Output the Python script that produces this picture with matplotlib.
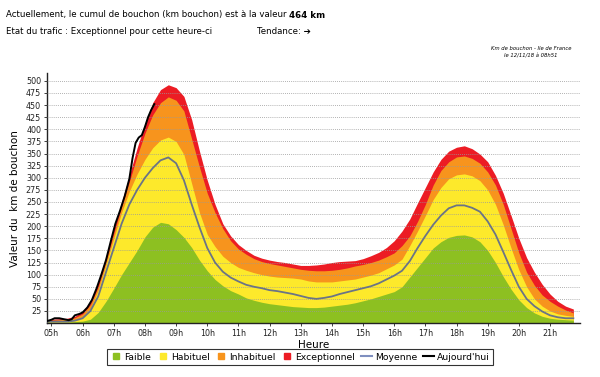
import matplotlib
matplotlib.use('Agg')
import matplotlib.pyplot as plt
from matplotlib.lines import Line2D
import numpy as np

# heures (abscisse) des courbes de reference
hours = [4.85] + list(np.arange(5.0, 21.76, 0.25))

# bornes hautes de chaque zone (km de bouchon)
faible = [2, 2, 2, 2, 3, 4, 8, 22, 45, 72, 100, 125, 150, 178, 198, 208, 205,
          193, 177, 156, 130, 108, 90, 77, 67, 60, 52, 47, 43, 40, 38, 36, 34,
          33, 32, 32, 33, 35, 37, 39, 42, 46, 50, 55, 60, 65, 75, 95, 115, 135,
          155, 168, 177, 181, 182, 178, 168, 150, 125, 96, 70, 48, 32, 21, 14,
          10, 8, 7, 6]
habituel = [4, 4, 4, 5, 7, 13, 30, 68, 120, 175, 228, 272, 308, 338, 362, 378,
            384, 375, 348, 288, 228, 183, 158, 138, 125, 115, 109, 104, 100, 97,
            95, 94, 93, 91, 87, 85, 85, 85, 87, 89, 91, 95, 99, 104, 112, 120,
            132, 160, 190, 222, 255, 280, 298, 306, 308, 304, 294, 275, 245, 203,
            155, 110, 75, 50, 35, 25, 19, 16, 14]
inhabituel = [5, 6, 7, 8, 11, 19, 38, 75, 128, 185, 240, 292, 345, 392, 430,
              455, 467, 460, 438, 380, 322, 268, 228, 195, 170, 153, 142, 133,
              127, 123, 120, 117, 114, 111, 109, 108, 108, 109, 111, 114, 118,
              121, 125, 130, 137, 145, 160, 180, 210, 245, 285, 315, 333, 343,
              345, 340, 330, 312, 285, 245, 195, 145, 105, 78, 58, 45, 35, 27, 21]
exceptionnel = [6, 8, 9, 10, 14, 24, 45, 85, 138, 195, 250, 305, 362, 412, 455,
                482, 492, 486, 468, 420, 355, 295, 245, 205, 180, 162, 150, 140,
                134, 130, 127, 125, 122, 119, 119, 120, 122, 125, 127, 128, 129,
                133, 139, 146, 156, 170, 190, 215, 248, 280, 312, 338, 355, 363,
                366, 360, 349, 333, 305, 268, 222, 175, 135, 105, 80, 60, 45, 35, 29]
moyenne = [3, 3, 3, 3, 5, 10, 25, 55, 105, 155, 205, 245, 275, 300, 320, 336,
           342, 330, 295, 245, 198, 155, 125, 106, 94, 86, 79, 75, 72, 68, 66,
           63, 60, 56, 52, 50, 52, 55, 60, 64, 68, 72, 76, 82, 90, 98, 108, 128,
           155, 180, 203, 222, 237, 243, 243, 238, 230, 210, 183, 147, 110, 75,
           50, 35, 24, 16, 12, 10, 10]

# courbe du jour
today_hours = [4.85, 5.0, 5.1, 5.25, 5.4, 5.55, 5.65, 5.75, 5.9, 6.0, 6.15, 6.3,
               6.45, 6.6, 6.75, 6.9, 7.05, 7.2, 7.35, 7.5, 7.6, 7.7, 7.8, 7.9,
               8.0, 8.1, 8.2, 8.3]
today = [4, 7, 10, 10, 8, 6, 8, 16, 19, 22, 32, 48, 72, 100, 130, 168, 205, 232,
         262, 298, 340, 372, 383, 388, 405, 425, 440, 452]

xticks = list(range(5, 22))
xlabels = ['%02dh' % h for h in xticks]
yticks = list(range(25, 501, 25))

c_green = '#8dc021'
c_yellow = '#fde92b'
c_orange = '#f7941d'
c_red = '#ec1c24'
c_moy = '#6b7486'

fig = plt.figure(figsize=(6, 3.77), dpi=100)
ax = fig.add_axes([0.078, 0.143, 0.888, 0.663])

ax.fill_between(hours, 0, exceptionnel, color=c_red, lw=0)
ax.fill_between(hours, 0, inhabituel, color=c_orange, lw=0)
ax.fill_between(hours, 0, habituel, color=c_yellow, lw=0)
ax.fill_between(hours, 0, faible, color=c_green, lw=0)
ax.plot(hours, moyenne, color=c_moy, lw=1.3, zorder=3)
ax.plot(today_hours, today, color='black', lw=1.4, zorder=4)

ax.set_xlim(4.85, 21.95)
ax.set_ylim(0, 516)
ax.set_xticks(xticks)
ax.set_xticklabels(xlabels, fontsize=5.8)
ax.set_yticks(yticks)
ax.set_yticklabels([str(v) for v in yticks], fontsize=5.8)
ax.tick_params(axis='both', length=2, width=0.6, pad=2, colors='#222222')
ax.set_axisbelow(False)
ax.yaxis.grid(True, linestyle=(0, (1, 1.5)), color='#999999', linewidth=0.6)

for s in ['top', 'right']:
    ax.spines[s].set_visible(False)
for s in ['left', 'bottom']:
    ax.spines[s].set_linewidth(1.0)
    ax.spines[s].set_color('#222222')

ax.set_xlabel('Heure', fontsize=7.5, labelpad=2)
ax.set_ylabel('Valeur du  km de bouchon', fontsize=7.5, labelpad=4)

handles = [
    Line2D([], [], marker='s', color='none', markerfacecolor=c_green, markeredgecolor=c_green, markersize=4),
    Line2D([], [], marker='s', color='none', markerfacecolor=c_yellow, markeredgecolor=c_yellow, markersize=4),
    Line2D([], [], marker='s', color='none', markerfacecolor=c_orange, markeredgecolor=c_orange, markersize=4),
    Line2D([], [], marker='s', color='none', markerfacecolor=c_red, markeredgecolor=c_red, markersize=4),
    Line2D([], [], color='#7f8fbf', lw=1.5),
    Line2D([], [], color='black', lw=1.5),
]
labels = ['Faible', 'Habituel', 'Inhabituel', 'Exceptionnel', 'Moyenne', "Aujourd'hui"]
leg = fig.legend(handles, labels, loc='center', bbox_to_anchor=(0.5, 0.053), ncol=6,
                 fontsize=6.7, frameon=True, fancybox=False, edgecolor='black',
                 handlelength=1.2, handletextpad=0.3, columnspacing=0.6,
                 borderpad=0.35, borderaxespad=0)
leg.get_frame().set_linewidth(0.8)

# textes d'en-tete
fs = 6.2
t1 = fig.text(6 / 600, 1 - 15 / 377, 'Actuellement, le cumul de bouchon (km bouchon) est à la valeur ',
              fontsize=fs, va='center', ha='left')
fig.canvas.draw()
bb = t1.get_window_extent()
fig.text(bb.x1 / 600, 1 - 15 / 377, '464 km', fontsize=fs, fontweight='bold', va='center', ha='left')
fig.text(6 / 600, 1 - 31 / 377, 'Etat du trafic : Exceptionnel pour cette heure-ci',
         fontsize=fs, va='center', ha='left')
fig.text(257 / 600, 1 - 31 / 377, 'Tendance: ➔', fontsize=fs, va='center', ha='left')
fig.text(531 / 600, 1 - 48 / 377, 'Km de bouchon - Ile de France', fontsize=3.8,
         style='italic', ha='center', va='center')
fig.text(531 / 600, 1 - 56 / 377, 'le 12/11/18 à 08h51', fontsize=3.8,
         style='italic', ha='center', va='center')

fig.savefig('out.png', dpi=100)
